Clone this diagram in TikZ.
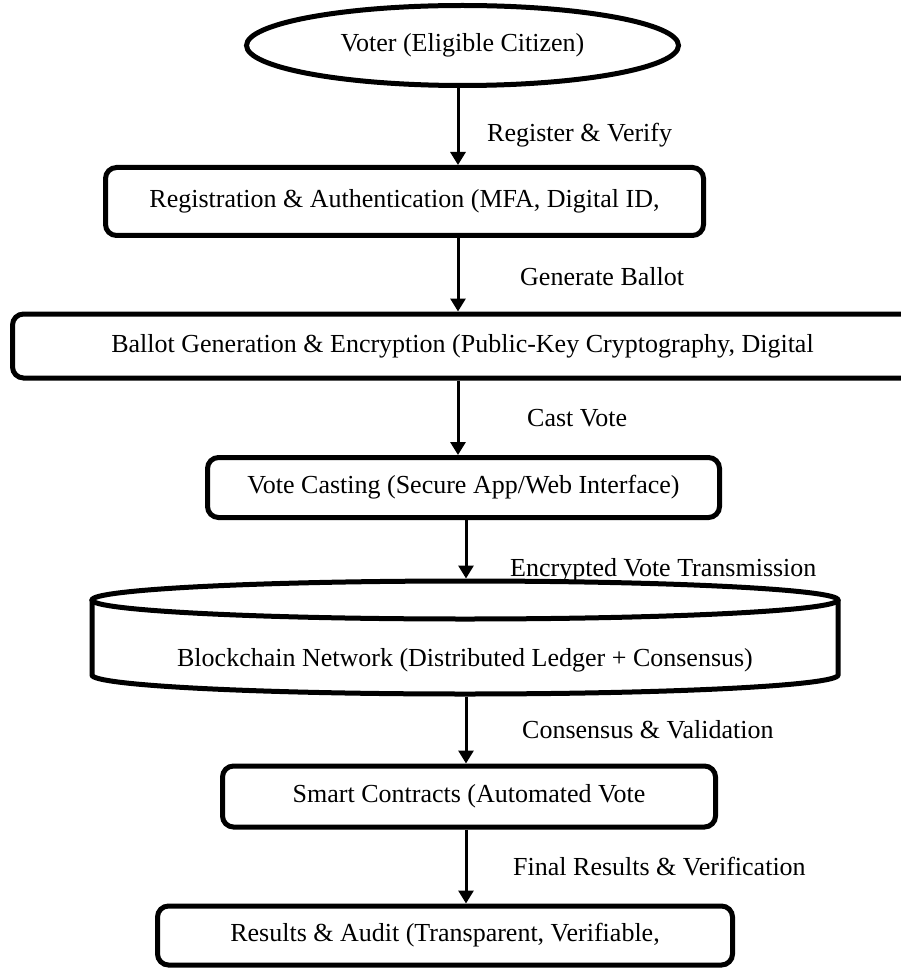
\documentclass[tikz,border=0pt]{standalone}
\usepackage{fontspec}
\setmainfont{Liberation Serif}
\usetikzlibrary{arrows.meta,shapes.geometric}

\begin{document}
\begin{tikzpicture}[x=1pt,y=-1pt,
  every node/.style={font=\fontsize{26}{31}\selectfont},
  box/.style={draw, line width=5pt, rounded corners=11pt, inner sep=0pt},
  flow/.style={line width=3pt, -{Triangle[length=13pt,width=15pt]}},
  lbl/.style={anchor=west, inner sep=0pt},
  drum/.style={line width=5pt}
]
\useasboundingbox (0,0) rectangle (901,968);
\clip (0,0) rectangle (901,968);

% vertical guides for the connectors
\coordinate (spineA) at (458,0);
\coordinate (spineB) at (466,0);

% stages
\node[draw, ellipse, line width=5pt, inner sep=0pt,
      minimum width=432pt, minimum height=80pt] (voter) at (462.5,45.5)
      {Voter (Eligible Citizen)};
\node[box, minimum width=598pt, minimum height=68pt] (reg) at (404.5,201.5)
      {Registration \& Authentication (MFA, Digital ID,};
\node[box, minimum width=900pt, minimum height=64pt] (ballot) at (462.5,346)
      {Ballot Generation \& Encryption (Public-Key Cryptography, Digital};
\node[box, minimum width=512pt, minimum height=60pt] (vote) at (463.5,487.5)
      {Vote Casting (Secure App/Web Interface)};

% ledger drawn as a cylinder
\draw[drum] (465,600) ellipse [x radius=373, y radius=19];
\draw[drum] (92,600) -- (92,675)
      arc[start angle=180, end angle=0, x radius=373, y radius=19] -- (838,600);
\node (chain) at (465,660) {Blockchain Network (Distributed Ledger + Consensus)};
\coordinate (chaintop) at (466,578.5);
\coordinate (chainbot) at (466,696.5);

\node[box, minimum width=493pt, minimum height=61pt] (smart) at (469,796.5)
      {Smart Contracts (Automated Vote};
\node[box, minimum width=575pt, minimum height=59pt] (audit) at (445,935.5)
      {Results \& Audit (Transparent, Verifiable,};

% connectors
\draw[flow] (voter.south -| spineA) -- (reg.north -| spineA);
\draw[flow] (reg.south -| spineA) -- (ballot.north -| spineA);
\draw[flow] (ballot.south -| spineA) -- (vote.north -| spineA);
\draw[flow] (vote.south -| spineB) -- (chaintop);
\draw[flow] (chainbot) -- (smart.north -| chainbot);
\draw[flow] (smart.south -| chainbot) -- (audit.north -| chainbot);

% connector labels
\node[lbl] (l1) at (487,135) {Register \& Verify};
\node[lbl] (l2) at (520,277) {Generate Ballot};
\node[lbl] (l3) at (527,418) {Cast Vote};
\node[lbl] (l4) at (510,570) {Encrypted Vote Transmission};
\node[lbl] (l5) at (522,730) {Consensus \& Validation};
\node[lbl] (l6) at (513,867) {Final Results \& Verification};
\end{tikzpicture}
\end{document}
